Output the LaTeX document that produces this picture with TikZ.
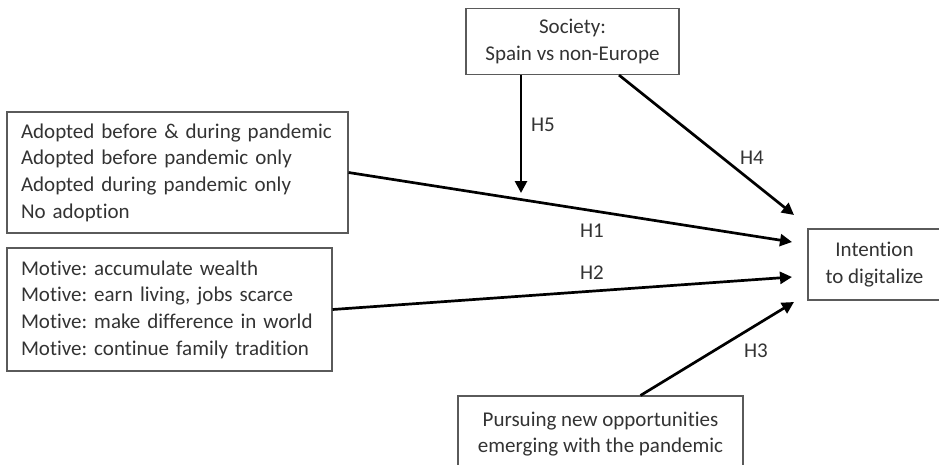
\documentclass[tikz,border=0pt]{standalone}
\usepackage{fontspec}
\setmainfont{Carlito}[Ligatures={NoCommon}]
\usetikzlibrary{arrows.meta,calc}
\definecolor{txtc}{HTML}{333333}
\definecolor{boxc}{HTML}{5A5A5A}
\tikzset{
  box/.style={draw=boxc, line width=1.1pt, rectangle, inner sep=0pt, text=txtc,
    font=\fontsize{21}{26.7}\selectfont},
  leftbox/.style={box, align=left, inner xsep=14pt},
  ctrbox/.style={box, align=center},
  arr/.style={line width=2.7pt, -{Triangle[length=12pt,width=12pt]}},
  hlab/.style={text=txtc, font=\fontsize{21}{26.7}\selectfont, inner sep=0pt}
}
\begin{document}
\frenchspacing
\begin{tikzpicture}[x=1pt,y=-1pt]
\useasboundingbox (0,0) rectangle (939,464);
\clip (0,0) rectangle (939,464);
\node[ctrbox, minimum width=213pt, minimum height=66pt] (soc) at (572.5,41.5) {Society:\\Spain vs non-Europe};
\node[leftbox, minimum width=341pt, minimum height=121pt, text width=313pt] (adopt) at (177.5,172.5)
  {Adopted before \& during pandemic\\Adopted before pandemic only\\Adopted during pandemic only\\No adoption};
\node[leftbox, minimum width=325pt, minimum height=123pt, text width=297pt] (motive) at (169.5,309.5)
  {Motive: accumulate wealth\\Motive: earn living, jobs scarce\\Motive: make difference in world\\Motive: continue family tradition};
\node[ctrbox, minimum width=133pt, minimum height=71pt] (intent) at (874.5,264.5) {Intention\\to digitalize};
\node[ctrbox, minimum width=285pt, minimum height=76pt] (pursue) at (600.5,434) {Pursuing new opportunities\\emerging with the pandemic};
\coordinate (h5s) at ($(soc.south)+(-51.5,0)$);
\coordinate (h5e) at (521,193);
\coordinate (h4s) at ($(soc.south)+(46.5,0)$);
\coordinate (h4e) at (794,215);
\coordinate (h1e) at (792,242);
\coordinate (h2e) at (792,277);
\coordinate (h3s) at ($(pursue.north)+(40,0)$);
\coordinate (h3e) at (794,302);
\draw[arr] (h5s) -- (h5e);
\draw[arr] (h4s) -- (h4e);
\draw[arr] (adopt.east) -- (h1e);
\draw[arr] (motive.east) -- (h2e);
\draw[arr] (h3s) -- (h3e);
\node[hlab] (l5) at (543,125) {H5};
\node[hlab] (l4) at (752,158) {H4};
\node[hlab] (l1) at (592,231) {H1};
\node[hlab] (l2) at (592,273) {H2};
\node[hlab] (l3) at (756,351) {H3};
\end{tikzpicture}
\end{document}
